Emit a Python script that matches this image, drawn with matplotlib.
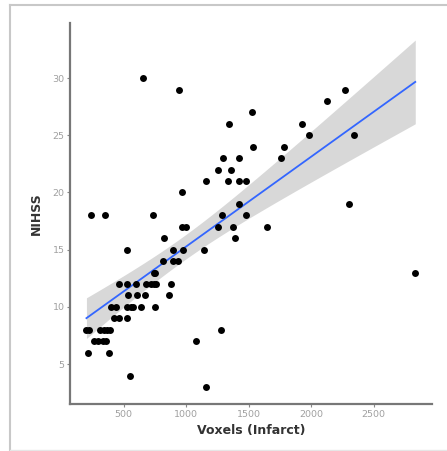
import numpy as np
import matplotlib
matplotlib.use("Agg")
import matplotlib.pyplot as plt
from matplotlib.lines import Line2D

# Data
voxels = [652, 945, 2273, 2130, 1527, 1343, 1927, 1983, 2343, 1537,
          1782, 1291, 1426, 1757, 1255, 1359, 1162, 1332, 1420, 1481,
          967, 2300, 1426, 242, 354, 732, 1287, 1479, 967, 999,
          1255, 1375, 1650, 826, 1389, 530, 892, 978, 1140, 818,
          892, 935, 743, 2833, 463, 530, 599, 679, 719, 743,
          879, 538, 604, 671, 866, 397, 442, 530, 559, 575,
          642, 748, 423, 463, 527, 202, 226, 314, 344, 367,
          394, 1282, 266, 292, 335, 356, 1079, 218, 383, 549,
          1159, 754, 760]
nihss = [30, 29, 29, 28, 27, 26, 26, 25, 25, 24,
         24, 23, 23, 23, 22, 22, 21, 21, 21, 21,
         20, 19, 19, 18, 18, 18, 18, 18, 17, 17,
         17, 17, 17, 16, 16, 15, 15, 15, 15, 14,
         14, 14, 13, 13, 12, 12, 12, 12, 12, 12,
         12, 11, 11, 11, 11, 10, 10, 10, 10, 10,
         10, 10, 9, 9, 9, 8, 8, 8, 8, 8,
         8, 8, 7, 7, 7, 7, 7, 6, 6, 4,
         3, 13, 12]
x_ticks = [500, 1000, 1500, 2000, 2500]
y_ticks = [5, 10, 15, 20, 25, 30]
x_label = "Voxels (Infarct)"
y_label = "NIHSS"

x = np.array(voxels, dtype=float)
y = np.array(nihss, dtype=float)

# linear fit with 95% confidence band (like geom_smooth(method='lm'))
n = len(x)
b1, b0 = np.polyfit(x, y, 1)
resid = y - (b0 + b1 * x)
s = np.sqrt(np.sum(resid**2) / (n - 2))
xs = np.linspace(x.min(), x.max(), 200)
ys = b0 + b1 * xs
tq = 1.99
se = s * np.sqrt(1.0 / n + (xs - x.mean())**2 / np.sum((x - x.mean())**2))
lo, hi = ys - tq * se, ys + tq * se

W, H = 447, 451
fig = plt.figure(figsize=(W / 100, H / 100), dpi=100)
fig.patch.set_facecolor("white")

# outer frame
fc = "#c8c8c8"
fig.add_artist(Line2D([10 / W, 10 / W], [0, 1 - 5 / H], color=fc, lw=1.5, transform=fig.transFigure))
fig.add_artist(Line2D([10 / W, 1], [1 - 5 / H, 1 - 5 / H], color=fc, lw=1.5, transform=fig.transFigure))
fig.add_artist(Line2D([10 / W, 1], [1 / H, 1 / H], color="#e6e6e6", lw=1.0, transform=fig.transFigure))

ax = fig.add_axes([70 / W, 1 - 404.3 / H, (431.7 - 70) / W, (404.3 - 22.7) / H])
ax.fill_between(xs, lo, hi, color="#999999", alpha=0.38, lw=0, zorder=1)
ax.plot(xs, ys, color="#3366FF", lw=1.3, zorder=2)
ax.scatter(x, y, s=25, color="black", lw=0, zorder=3)

xr = x.max() - x.min()
ax.set_xlim(x.min() - 0.05 * xr, x.max() + 0.05 * xr)
ymin = min(y.min(), lo.min()); ymax = max(y.max(), hi.max())
yr = ymax - ymin
ax.set_ylim(ymin - 0.05 * yr, ymax + 0.05 * yr)

ax.set_xticks(x_ticks)
ax.set_yticks(y_ticks)
for sp in ["top", "right"]:
    ax.spines[sp].set_visible(False)
for sp in ["left", "bottom"]:
    ax.spines[sp].set_color("#777777")
    ax.spines[sp].set_linewidth(1.6)
ax.tick_params(axis="both", colors="#888888", length=2.5, width=0.8, pad=1.5,
               labelsize=6.8, labelcolor="#a0a0a0")
ax.set_xlabel(x_label, fontsize=9, fontweight="bold", color="#333333", labelpad=4)
ax.set_ylabel(y_label, fontsize=9, fontweight="bold", color="#333333", labelpad=7)

fig.savefig("out.png", dpi=100, facecolor="white")
